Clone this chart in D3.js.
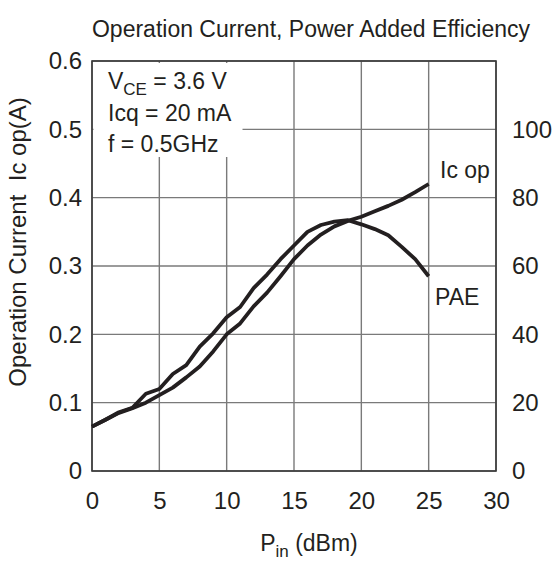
<!DOCTYPE html>
<html>
<head>
<meta charset="utf-8">
<script src="https://cdn.jsdelivr.net/npm/d3@7"></script>
<style>
  body { margin: 0; background: #fff; }
  svg text { font-family: "Liberation Sans", Arial, sans-serif; fill: #231f20; }
</style>
</head>
<body>
<div id="chart"></div>
<script>
// Pin (dBm)
const pin = [0, 1, 2, 3, 4, 5, 6, 7, 8, 9, 10, 11, 12, 13, 14, 15, 16, 17, 18, 19, 20, 21, 22, 23, 24, 25];
// operation current (A), left axis
const icOp = [0.065, 0.075, 0.085, 0.092, 0.100, 0.111, 0.122, 0.137, 0.153, 0.175, 0.200, 0.216, 0.241, 0.261,
              0.285, 0.310, 0.330, 0.346, 0.358, 0.366, 0.372, 0.380, 0.388, 0.397, 0.408, 0.420];
// power added efficiency (%), right axis
const pae = [13, 15, 17.2, 18.5, 22.6, 24, 28.4, 31, 36.4, 40.3, 45, 48, 53.5, 57.5,
             62, 66, 70, 72, 73, 73.4, 72.2, 70.8, 69, 65.6, 62, 57];

const xTicks = [0, 5, 10, 15, 20, 25, 30];
const yLeftTicks = [0, 0.1, 0.2, 0.3, 0.4, 0.5, 0.6];
const yRightTicks = [0, 20, 40, 60, 80, 100];
const conditions = ["= 3.6 V", "Icq = 20 mA", "f = 0.5GHz"];

const width = 558, height = 565;
const plot = { left: 92, right: 496, top: 61, bottom: 471 };

const svg = d3.select('#chart').append('svg')
    .attr('width', width)
    .attr('height', height);

const xScale = d3.scaleLinear().domain([0, 30]).range([plot.left, plot.right]);
const yLeft = d3.scaleLinear().domain([0, 0.6]).range([plot.bottom, plot.top]);
const yRight = d3.scaleLinear().domain([0, 120]).range([plot.bottom, plot.top]);

// grid
const grid = svg.append('g').attr('stroke', '#7a7a7a').attr('stroke-width', 1.4);
grid.selectAll('line.v')
    .data(xTicks)
    .enter()
    .append('line')
    .attr('x1', d => xScale(d)).attr('x2', d => xScale(d))
    .attr('y1', plot.top).attr('y2', plot.bottom);
grid.selectAll('line.h')
    .data(yLeftTicks)
    .enter()
    .append('line')
    .attr('x1', plot.left).attr('x2', plot.right)
    .attr('y1', d => yLeft(d)).attr('y2', d => yLeft(d));

// frame
svg.append('rect')
    .attr('x', plot.left).attr('y', plot.top)
    .attr('width', plot.right - plot.left)
    .attr('height', plot.bottom - plot.top)
    .attr('fill', 'none')
    .attr('stroke', '#3a3a3a')
    .attr('stroke-width', 1.6);

// axes (labels only)
const tickFs = '24px';
const fs = '23px';
const xAxis = d3.axisBottom(xScale).tickValues(xTicks).tickSize(0).tickPadding(21);
const gx = svg.append('g').attr('transform', `translate(0, ${plot.bottom})`).call(xAxis);

const leftAxis = d3.axisLeft(yLeft).tickValues(yLeftTicks).tickSize(0).tickPadding(10)
    .tickFormat(d => d === 0 ? '0' : d.toFixed(1));
const gl = svg.append('g').attr('transform', `translate(${plot.left}, 0)`).call(leftAxis);

const rightAxis = d3.axisRight(yRight).tickValues(yRightTicks).tickSize(0).tickPadding(16);
const gr = svg.append('g').attr('transform', `translate(${plot.right}, 0)`).call(rightAxis);

[gx, gl, gr].forEach(g => {
    g.select('.domain').remove();
    g.selectAll('text').style('font-size', tickFs).attr('fill', '#231f20');
});

// conditions box
svg.append('rect')
    .attr('x', plot.left + 1.5).attr('y', plot.top + 2)
    .attr('width', 149).attr('height', 94)
    .attr('fill', '#fff');

const cond = svg.append('g').style('font-size', fs);
const vce = cond.append('text').attr('x', 108).attr('y', 89);
vce.append('tspan').text('V');
vce.append('tspan').attr('dy', 6).style('font-size', '17px').text('CE');
vce.append('tspan').attr('dy', -6).text(' ' + conditions[0]);
cond.append('text').attr('x', 108).attr('y', 121).text(conditions[1]);
cond.append('text').attr('x', 108).attr('y', 152).text(conditions[2]);

// curves
const icLine = d3.line().x((d, i) => xScale(pin[i])).y(d => yLeft(d));
const paeLine = d3.line().x((d, i) => xScale(pin[i])).y(d => yRight(d));

svg.append('path').datum(icOp)
    .attr('d', icLine)
    .attr('fill', 'none').attr('stroke', '#231f20').attr('stroke-width', 3.8)
    .attr('stroke-linejoin', 'round');
svg.append('path').datum(pae)
    .attr('d', paeLine)
    .attr('fill', 'none').attr('stroke', '#231f20').attr('stroke-width', 3.8)
    .attr('stroke-linejoin', 'round');

svg.append('text').attr('x', 440).attr('y', 178).style('font-size', fs).text('Ic op');
svg.append('text').attr('x', 435).attr('y', 305).style('font-size', fs).text('PAE');

// titles
svg.append('text')
    .attr('x', 311).attr('y', 37)
    .attr('text-anchor', 'middle')
    .style('font-size', fs)
    .text('Operation Current, Power Added Efficiency');

svg.append('text')
    .attr('transform', 'translate(26, 242) rotate(-90)')
    .attr('text-anchor', 'middle')
    .attr('xml:space', 'preserve')
    .style('white-space', 'pre')
    .style('font-size', tickFs)
    .text('Operation Current  Ic op(A)');

const xt = svg.append('text')
    .attr('x', 309).attr('y', 551)
    .attr('text-anchor', 'middle')
    .style('font-size', fs);
xt.append('tspan').text('P');
xt.append('tspan').attr('dy', 6).style('font-size', '17px').text('in');
xt.append('tspan').attr('dy', -6).text(' (dBm)');
</script>
</body>
</html>
